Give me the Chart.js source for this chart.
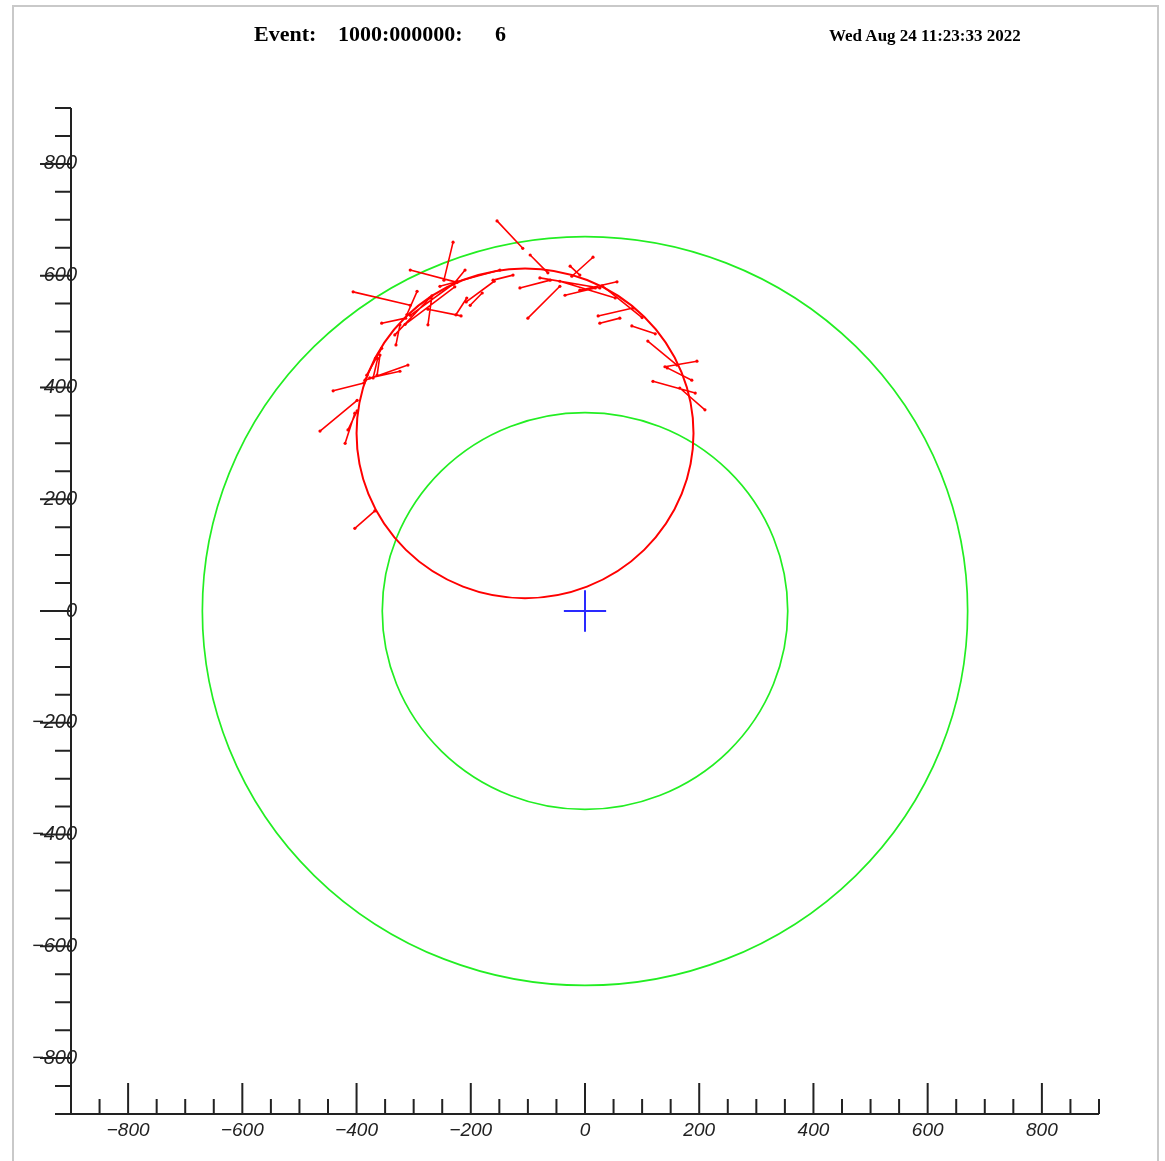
<!DOCTYPE html>
<html>
<head>
<meta charset="utf-8">
<script src="https://cdn.jsdelivr.net/npm/chart.js@4.4.1/dist/chart.umd.min.js"></script>
<style>
  html, body { margin: 0; padding: 0; background: #fff; }
  #wrap { position: relative; width: 1165px; height: 1161px; overflow: hidden; }
  #frame { position: absolute; left: 12px; top: 5px; width: 1143px; height: 1180px; border: 2px solid #c9c9c9; border-bottom: none; }
  .hdr { position: absolute; font-family: "Liberation Serif", "Times New Roman", serif; font-weight: bold; color: #000; white-space: pre; line-height: 1; }
  canvas { position: absolute; left: 0; top: 0; }
</style>
</head>
<body>
<div id="wrap">
  <div id="frame"></div>
  <canvas id="evt" width="1165" height="1161"></canvas>
  <div class="hdr" style="left:254px;top:23px;font-size:22px">Event:</div>
  <div class="hdr" style="left:338px;top:23px;font-size:22px">1000:000000:</div>
  <div class="hdr" style="left:495px;top:23px;font-size:22px">6</div>
  <div class="hdr" style="left:829px;top:27px;font-size:17px">Wed Aug 24 11:23:33 2022</div>
</div>
<script>
// axis ranges and labelled ticks
const xRange = [-900, 900];
const yRange = [-900, 900];
const xTickLabels = [-800, -600, -400, -200, 0, 200, 400, 600, 800];
const yTickLabels = [-800, -600, -400, -200, 0, 200, 400, 600, 800];
const minorStep = 50;

// detector rings (green) and fitted track circle (red): [cx, cy, r]
const detectorRings = [[0, 0, 670], [0, 0, 355]];
const trackCircle = [-105, 318, 295];

// hit segments [x1, y1, x2, y2]
const hitSegments = [
  [-231, 660, -247, 592],
  [-306, 610, -224, 588],
  [-406, 571, -306, 547],
  [-275, 540, -217, 528],
  [-210, 610, -230, 585],
  [-207, 560, -226, 530],
  [-268, 564, -275, 512],
  [-294, 572, -312, 530],
  [-356, 515, -314, 524],
  [-324, 512, -331, 476],
  [-159, 590, -208, 553],
  [-180, 569, -201, 547],
  [-224, 590, -306, 529],
  [-228, 580, -315, 513],
  [-272, 560, -333, 494],
  [-254, 581, -149, 610],
  [-154, 698, -109, 649],
  [-96, 637, -65, 605],
  [14, 633, -23, 599],
  [-26, 617, -9, 601],
  [-100, 524, -44, 581],
  [-114, 578, -61, 592],
  [-161, 592, -126, 601],
  [-79, 596, 26, 578],
  [-44, 590, 53, 560],
  [-35, 565, 18, 578],
  [-9, 574, 56, 589],
  [23, 528, 84, 542],
  [26, 515, 61, 524],
  [30, 582, 100, 525],
  [82, 510, 123, 496],
  [110, 483, 161, 440],
  [140, 437, 196, 447],
  [144, 435, 187, 413],
  [119, 411, 193, 390],
  [166, 399, 210, 360],
  [-441, 394, -387, 408],
  [-385, 413, -310, 440],
  [-377, 417, -324, 429],
  [-464, 322, -399, 377],
  [-420, 300, -403, 354],
  [-415, 324, -399, 358],
  [-382, 422, -356, 470],
  [-364, 422, -359, 458],
  [-367, 452, -385, 413],
  [-363, 452, -371, 417],
  [-403, 148, -368, 179]
];

// primary vertex marker
const vertexCross = [[-37, 0, 37, 0], [0, -37, 0, 37]];

function toLineData(segs) {
  const out = [];
  segs.forEach(s => {
    out.push({x: s[0], y: s[1]}, {x: s[2], y: s[3]}, {x: null, y: null});
  });
  return out;
}

function fmt(v) {
  return v < 0 ? '\u2212' + Math.abs(v) : String(v);
}

const axisColor = '#222';
const fontFamily = '"Liberation Sans", Arial, sans-serif';
const xTickFont = {family: fontFamily, size: 19, style: 'italic'};
const yTickFont = {family: fontFamily, size: 20, style: 'italic'};

// y labels sit right-aligned just past the axis line (ROOT style), so
// mirror them and pull them back by the widest label
const measureCtx = document.createElement('canvas').getContext('2d');
measureCtx.font = 'italic 20px ' + fontFamily;
const widestY = Math.max(...yTickLabels.map(v => measureCtx.measureText(fmt(v)).width));

const detectorPlot = {
  id: 'detectorPlot',
  beforeDatasetsDraw(chart) {
    const ctx = chart.ctx;
    const xs = chart.scales.x, ys = chart.scales.y;
    function ring(c, color, w) {
      const px = xs.getPixelForValue(c[0]);
      const py = ys.getPixelForValue(c[1]);
      const rx = Math.abs(xs.getPixelForValue(c[0] + c[2]) - px);
      const ry = Math.abs(ys.getPixelForValue(c[1] + c[2]) - py);
      ctx.beginPath();
      ctx.ellipse(px, py, rx, ry, 0, 0, Math.PI * 2);
      ctx.strokeStyle = color;
      ctx.lineWidth = w;
      ctx.stroke();
    }
    ctx.save();
    detectorRings.forEach(r => ring(r, '#22ee22', 1.7));
    ring(trackCircle, '#ff0000', 2);
    ctx.restore();
  },
  afterDraw(chart) {
    const ctx = chart.ctx;
    const xs = chart.scales.x, ys = chart.scales.y;
    const x0 = xs.getPixelForValue(xRange[0]), x1 = xs.getPixelForValue(xRange[1]);
    const y0 = ys.getPixelForValue(yRange[0]), y1 = ys.getPixelForValue(yRange[1]);
    ctx.save();
    ctx.strokeStyle = axisColor;
    ctx.lineWidth = 2;
    ctx.beginPath();
    ctx.moveTo(x0, y0); ctx.lineTo(x1, y0);
    ctx.moveTo(x0, y0); ctx.lineTo(x0, y1);
    // ticks: x up, y to the left
    for (let v = xRange[0]; v <= xRange[1]; v += minorStep) {
      const p = xs.getPixelForValue(v);
      const len = xTickLabels.includes(v) ? 31 : 15;
      ctx.moveTo(p, y0); ctx.lineTo(p, y0 - len);
    }
    for (let v = yRange[0]; v <= yRange[1]; v += minorStep) {
      const p = ys.getPixelForValue(v);
      const len = yTickLabels.includes(v) ? 31 : 16;
      ctx.moveTo(x0, p); ctx.lineTo(x0 - len, p);
    }
    ctx.stroke();
    ctx.restore();
  }
};

new Chart(document.getElementById('evt'), {
  type: 'scatter',
  data: {
    datasets: [
      {
        label: 'hits',
        data: toLineData(hitSegments),
        showLine: true,
        borderColor: '#ff0000',
        borderWidth: 1.6,
        pointRadius: 1.6,
        pointBackgroundColor: '#ff0000',
        pointBorderWidth: 0,
        spanGaps: false
      },
      {
        label: 'vertex',
        data: toLineData(vertexCross),
        showLine: true,
        borderColor: '#2a2aff',
        borderWidth: 2,
        pointRadius: 0,
        spanGaps: false
      }
    ]
  },
  options: {
    responsive: false,
    animation: false,
    devicePixelRatio: 1,
    layout: {padding: {top: 108, right: 66, left: 0, bottom: 0}},
    plugins: {
      legend: {display: false},
      tooltip: {enabled: false},
      title: {display: false}
    },
    scales: {
      x: {
        type: 'linear',
        position: 'bottom',
        min: xRange[0],
        max: xRange[1],
        grid: {display: false, drawTicks: false},
        border: {display: false},
        afterBuildTicks: s => { s.ticks = xTickLabels.map(v => ({value: v})); },
        afterFit: s => { s.height = 47; },
        ticks: {padding: 5, font: xTickFont, color: axisColor, callback: fmt, maxRotation: 0, autoSkip: false}
      },
      y: {
        type: 'linear',
        position: 'left',
        min: yRange[0],
        max: yRange[1],
        grid: {display: false, drawTicks: false},
        border: {display: false},
        afterBuildTicks: s => { s.ticks = yTickLabels.map(v => ({value: v})); },
        afterFit: s => { s.width = 71; },
        ticks: {mirror: true, crossAlign: 'far', padding: 6 - widestY, font: yTickFont, color: axisColor, callback: fmt, autoSkip: false}
      }
    }
  },
  plugins: [detectorPlot]
});
</script>
</body>
</html>
